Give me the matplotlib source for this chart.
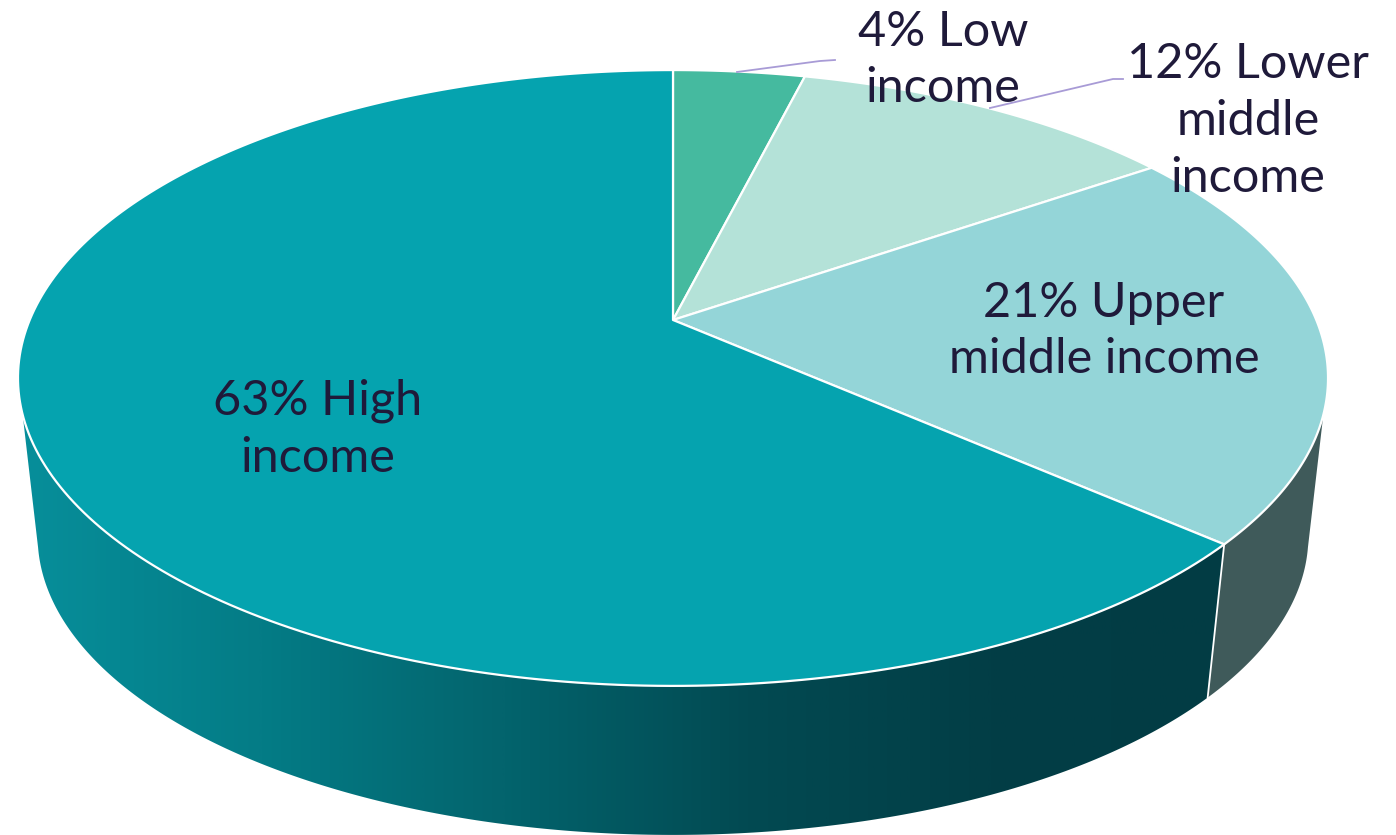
import matplotlib as mpl
import matplotlib.pyplot as plt
import numpy as np
from matplotlib.colors import LinearSegmentedColormap
from matplotlib.patches import Polygon

mpl.use("Agg")
plt.rcParams["font.family"] = ["Lato", "DejaVu Sans"]

# slice shares, clockwise from 12 o'clock
names = ["Low income", "Lower middle income", "Upper middle income", "High income"]
shares = [3.9, 11.5, 21.1, 63.5]
top_colors = ["#45BA9F", "#B4E2D8", "#94D5D8", "#05A3AF"]
labels = ["4% Low\nincome", "12% Lower\nmiddle\nincome", "21% Upper\nmiddle income", "63% High\nincome"]
label_pos = [(943, 60), (1248, 121), (1104, 331), (318, 429)]

text_color = "#1F1A3A"
leader_color = "#A89BD6"
wall_stops = ["#078F9B", "#047C86", "#03646D", "#024A52", "#023E46", "#023C44"]
wall_side_color = "#3F5A5A"

cx, cy = 673, 320
a, b, k = 643.3, 297.0, 0.1883
wall_scale, wall_cy = 0.97, 480


def rim(t_deg, s=1.0, y0=cy):
    t = np.radians(t_deg)
    d = 1 + k * np.cos(t)
    return cx + s * a * np.sin(t) / d, y0 - s * b * np.cos(t) / d


def arc(t0, t1, s=1.0, y0=cy):
    t = np.linspace(t0, t1, 240)
    x, y = rim(t, s, y0)
    return np.column_stack([x, y])


fig = plt.figure(figsize=(13.96, 8.35), dpi=100)
ax = fig.add_axes([0, 0, 1, 1])
ax.set_xlim(0, 1396)
ax.set_ylim(835, 0)
ax.axis("off")

edges = np.concatenate([[0], np.cumsum(shares)]) / np.sum(shares) * 360
seam = edges[3]

# side wall of the big slice, gradient clipped to the shape
wall_big = np.vstack([arc(seam, 252.5), arc(257, seam, wall_scale, wall_cy)])
patch = Polygon(wall_big, closed=True, fc="none", ec="none")
ax.add_patch(patch)
cmap = LinearSegmentedColormap.from_list("wall", wall_stops)
img = ax.imshow(np.linspace(0, 1, 512).reshape(1, -1), cmap=cmap, aspect="auto",
                extent=(15, 1235, 835, 400), zorder=1)
img.set_clip_path(patch)
ax.set_xlim(0, 1396)
ax.set_ylim(835, 0)

# side wall of the upper middle slice
wall_small = np.vstack([arc(107.5, seam), arc(seam, 103, wall_scale, wall_cy)])
ax.add_patch(Polygon(wall_small, closed=True, fc=wall_side_color, ec="none", zorder=1))
sx, sy = rim(seam)
bx, by = rim(seam, wall_scale, wall_cy)
ax.plot([sx, bx], [sy, by], color="white", lw=1.3, zorder=2)

# top face
for i in range(len(shares)):
    pts = np.vstack([[cx, cy], arc(edges[i], edges[i + 1])])
    ax.add_patch(Polygon(pts, closed=True, fc=top_colors[i], ec="white", lw=1.6,
                         joinstyle="round", zorder=3))

# leader lines
ax.plot([737, 820, 835], [72, 61, 60], color=leader_color, lw=1.3, zorder=4)
ax.plot([990, 1113, 1123], [108, 79, 79], color=leader_color, lw=1.3, zorder=4)

for (x, y), s in zip(label_pos, labels):
    ax.text(x, y, s, ha="center", va="center", fontsize=35, color=text_color,
            linespacing=1.36, zorder=5)

fig.savefig("out.png", dpi=100, facecolor="white")
plt.close(fig)
